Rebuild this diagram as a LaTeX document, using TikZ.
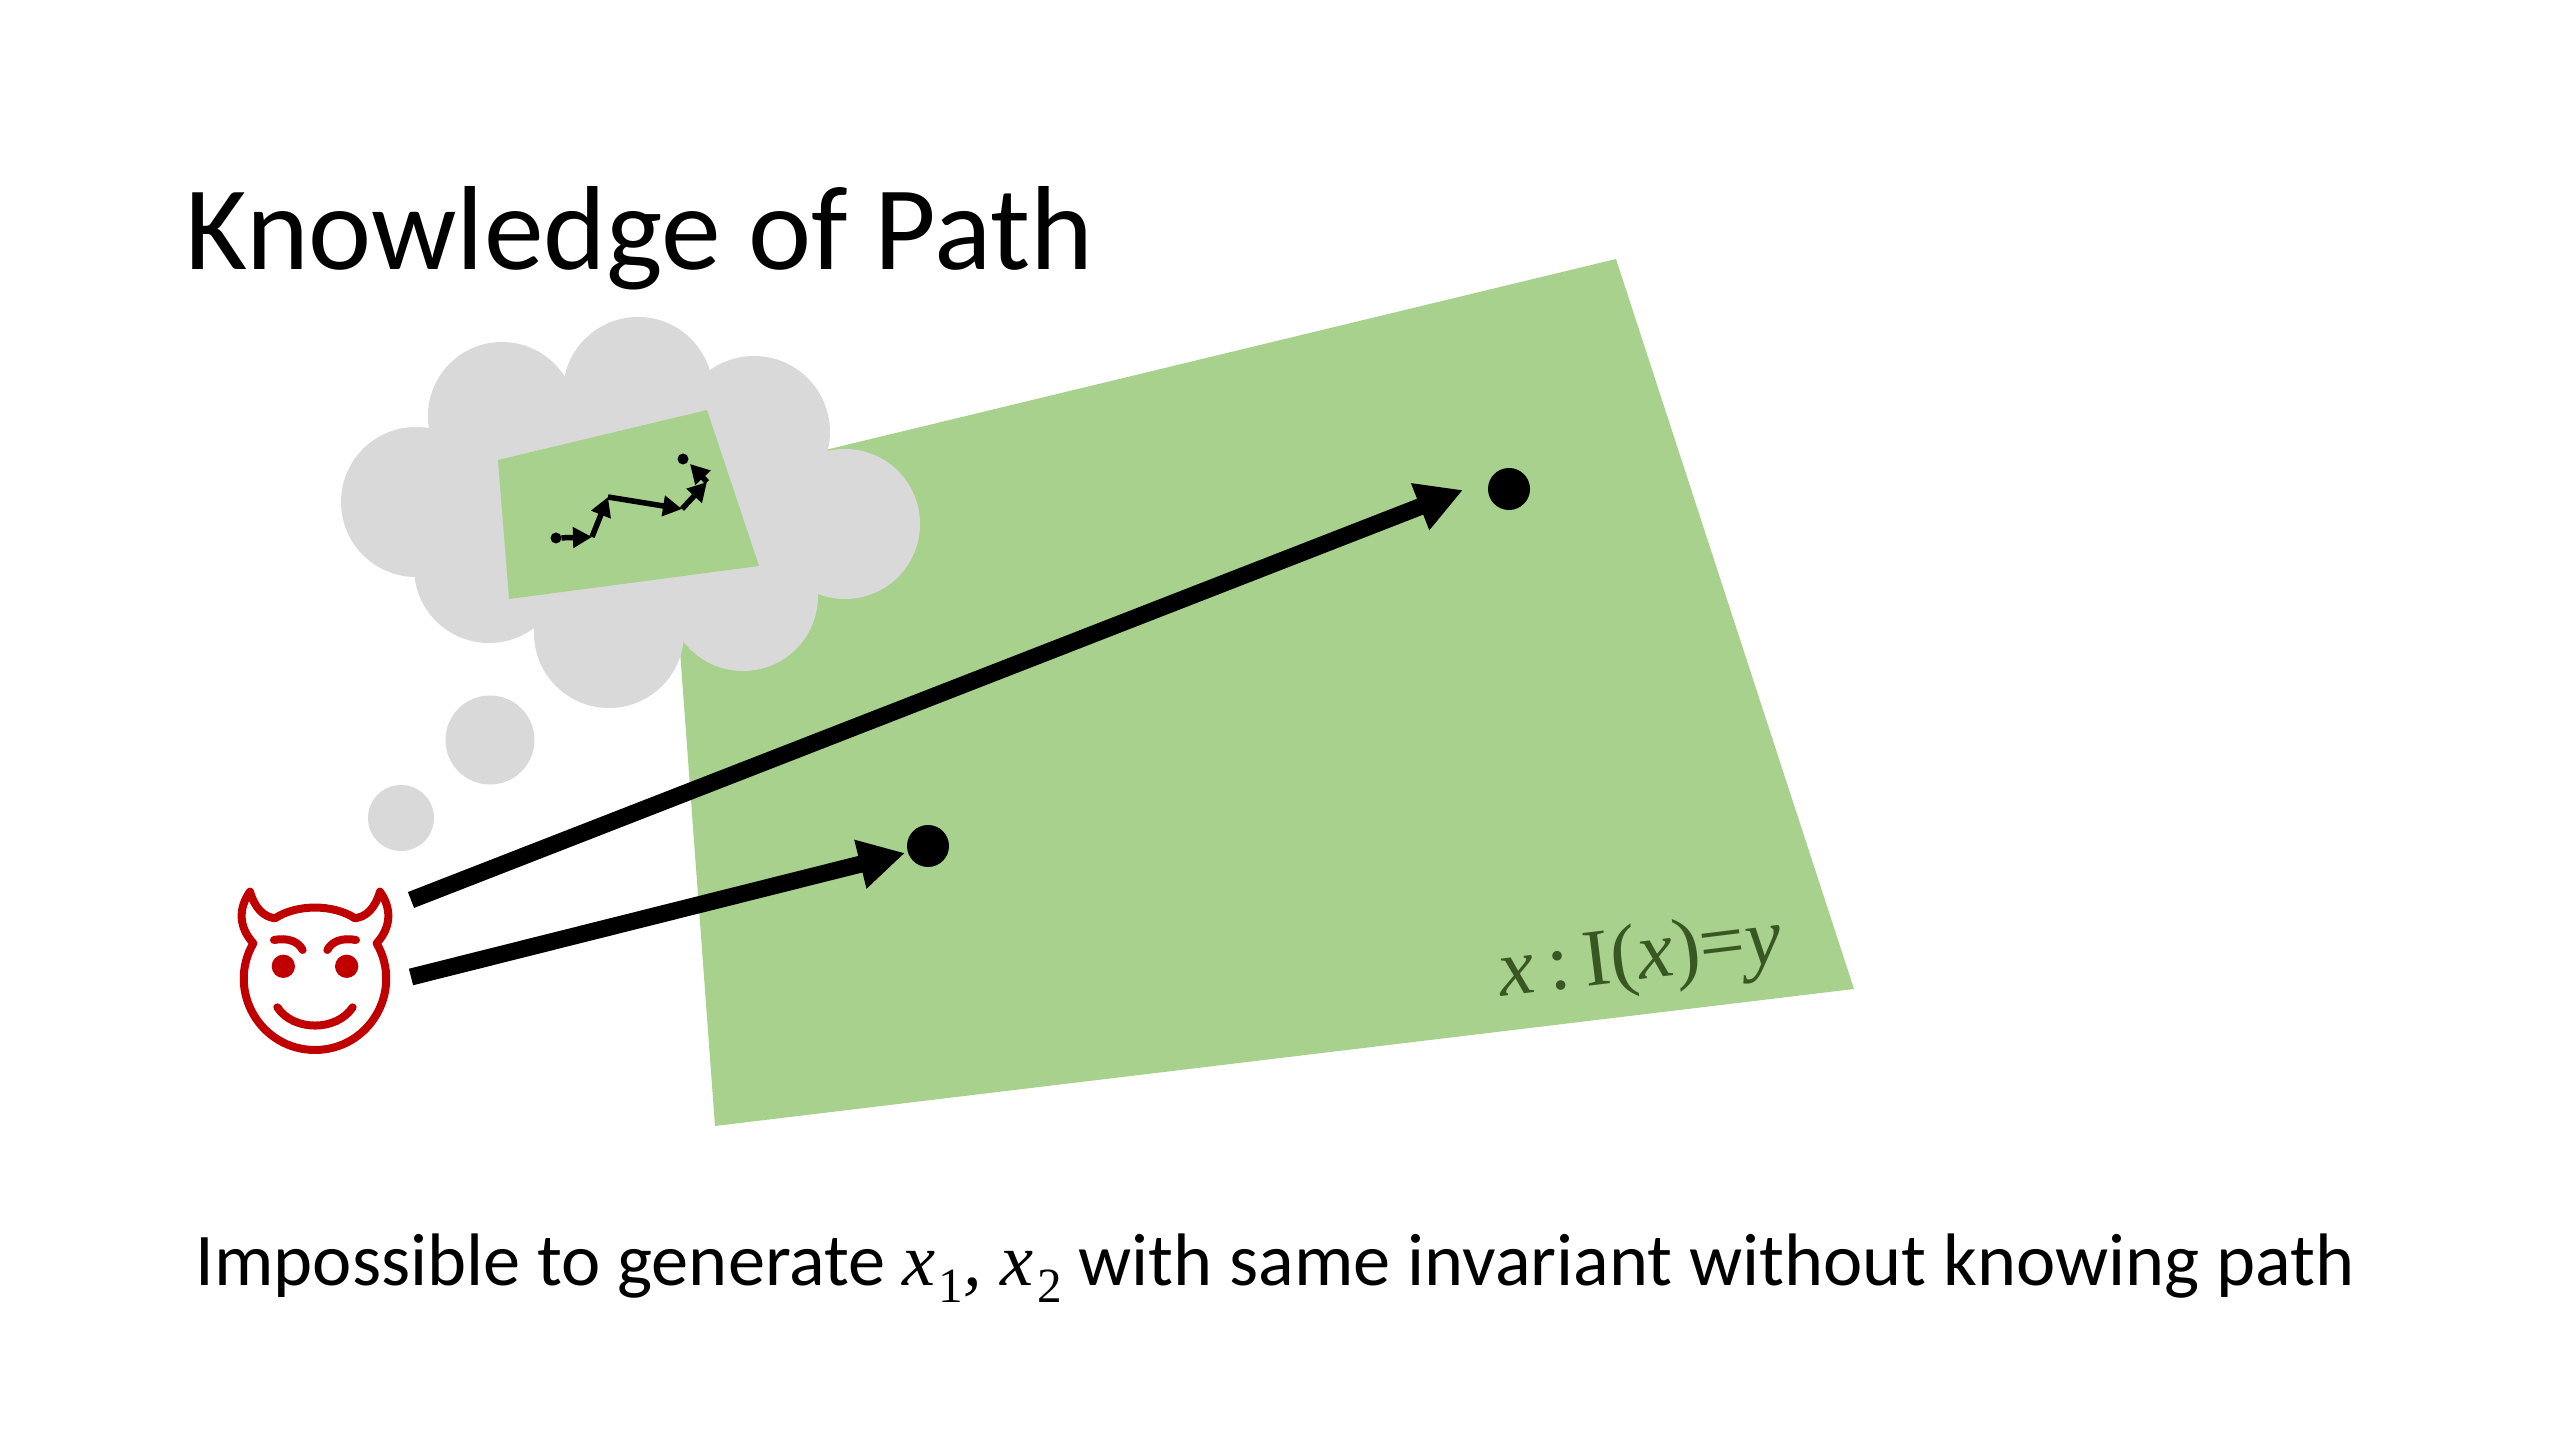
\documentclass[tikz,border=0pt]{standalone}
\usepackage{fontspec}
\setmainfont{Carlito}
\newfontfamily\serifish{Liberation Serif}
\usetikzlibrary{arrows.meta}
\definecolor{leaf}{HTML}{A9D18E}
\definecolor{puff}{HTML}{D9D9D9}
\definecolor{imp}{HTML}{C00000}
\definecolor{moss}{HTML}{385723}
\newcommand{\lowdigit}[1]{\raisebox{-5pt}{\fontsize{14}{14}\selectfont\upshape #1}}
\tikzset{
  bigarrow/.style={line width=0.17cm,-{Triangle[length=0.46cm,width=0.47cm]}},
  steparrow/.style={line width=0.055cm,-{Triangle[length=0.19cm,width=0.2cm]}},
  bigdot/.style={circle,fill=black,minimum size=0.42cm,inner sep=0pt,outer sep=0pt},
  stepdot/.style={circle,fill=black,minimum size=0.11cm,inner sep=0pt,outer sep=0pt},
  imp line/.style={imp,line width=0.08cm,line cap=round,line join=round}
}
\begin{document}
\begin{tikzpicture}[x=0.01cm,y=-0.01cm]
\fill[white] (0,0) rectangle (2560,1440);
\useasboundingbox (0,0) rectangle (2560,1440);
%% big region
\fill[leaf] (668,488) -- (1616,259) -- (1854,989) -- (715,1126) -- cycle;
%% cloud
\fill[puff] (416,502) circle (75);
\fill[puff] (502,416) circle (74);
\fill[puff] (638,392) circle (75);
\fill[puff] (754,432) circle (76);
\fill[puff] (845,524) circle (75);
\fill[puff] (743,596) circle (75);
\fill[puff] (609,633) circle (75);
\fill[puff] (489,568) circle (75);
\fill[puff] (416,502) -- (502,416) -- (638,392) -- (754,432) -- (845,524) -- (743,596) -- (609,633) -- (489,568) -- cycle;
\fill[puff] (490,740) circle (44.5);
\fill[puff] (401,818) circle (33);
%% small region
\fill[leaf] (498,460) -- (707,410) -- (759,566) -- (509,599) -- cycle;
%% path inside the cloud
\node[stepdot] (pa) at (556,538) {};
\coordinate (pb) at (592,537);
\coordinate (pc) at (608,497);
\coordinate (pd) at (682,509);
\coordinate (pe) at (707,482);
\coordinate (pf) at (690,464);
\node[stepdot] (pg) at (683,459) {};
\draw[steparrow] (pa) -- (pb);
\draw[steparrow] (pb) -- (pc);
\draw[steparrow] (pc) -- (pd);
\draw[steparrow] (pd) -- (pe);
\draw[steparrow] (pe) -- (pf);
%% end points and arrows
\node[bigdot] (xa) at (928,846) {};
\node[bigdot] (xb) at (1509,489) {};
\coordinate (sa) at (411,977);
\coordinate (sb) at (411,900);
\coordinate (ta) at (905,853);
\coordinate (tb) at (1463,490);
\draw[bigarrow] (sa) -- (ta);
\draw[bigarrow] (sb) -- (tb);
%% devil
\begin{scope}[shift={(200,780)},scale=0.3333]
\draw[imp line] (150,335) .. controls (165,385) and (190,410) .. (225,415)
  .. controls (290,372) and (400,372) .. (465,415)
  .. controls (500,410) and (525,385) .. (540,335)
  .. controls (575,385) and (575,440) .. (530,490)
  .. controls (612,632) and (509,810) .. (345,810)
  .. controls (181,810) and (78,632) .. (160,490)
  .. controls (115,440) and (115,385) .. (150,335) -- cycle;
\draw[imp line] (222,480) .. controls (265,472) and (295,485) .. (308,510);
\draw[imp line] (468,480) .. controls (425,472) and (395,485) .. (382,510);
\draw[imp line] (232,682) .. controls (280,755) and (410,755) .. (458,682);
\fill[imp] (250,559) circle (35);
\fill[imp] (440,559) circle (35);
\end{scope}
%% texts
\node[anchor=base west,inner sep=0pt,font=\fontsize{34}{40}\selectfont] (title) at (185,270) {Knowledge of Path};
\node[anchor=center,inner sep=0pt,rotate=7,text=moss,font=\fontsize{23}{27}\selectfont\serifish] (region) at (1640,960)
  {\textit{x}\hspace{4pt}:\hspace{4pt}I(\textit{x})=\textit{y}};
\node[anchor=base west,inner sep=0pt,font=\fontsize{21.15}{26}\selectfont] (caption) at (195,1285)
  {Impossible to generate {\serifish\itshape x\hspace{1pt}\lowdigit{1}, x\hspace{1pt}\lowdigit{2}} with same invariant without knowing path};
\end{tikzpicture}
\end{document}
